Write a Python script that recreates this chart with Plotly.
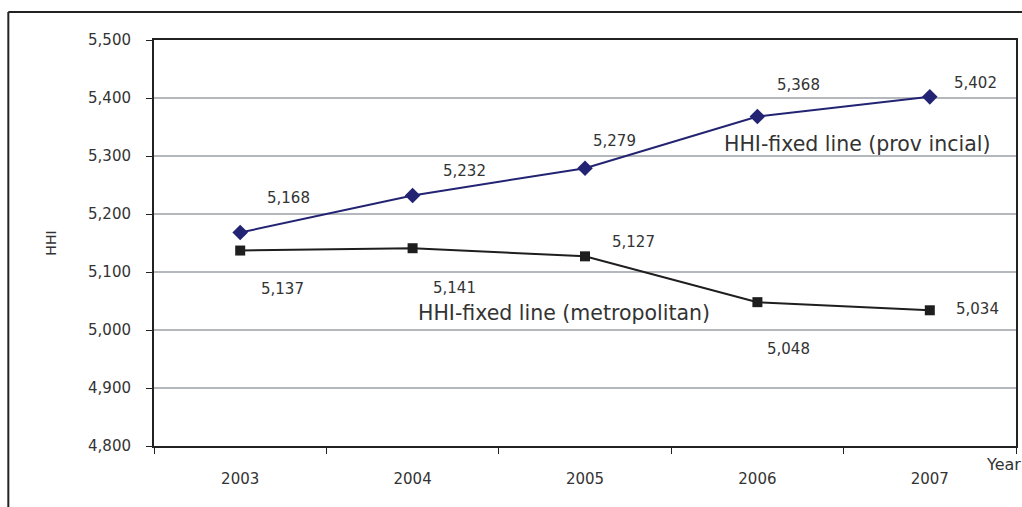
import plotly.graph_objects as go

years = ["2003", "2004", "2005", "2006", "2007"]
provincial = [5168, 5232, 5279, 5368, 5402]
metropolitan = [5137, 5141, 5127, 5048, 5034]

prov_label = "HHI-fixed line (prov incial)"
metro_label = "HHI-fixed line (metropolitan)"

FONT = "DejaVu Sans"
TXT = "#333333"

# label offsets (pixels) relative to each point
prov_shift = [(48, 35), (52, 24), (29, 27), (41, 32), (46, 14)]
metro_shift = [(42, -38), (42, -40), (48, 14), (31, -47), (48, 1)]

fig = go.Figure()
fig.add_trace(go.Scatter(
    x=years, y=provincial, mode="lines+markers", name=prov_label,
    line=dict(color="#232373", width=2),
    marker=dict(symbol="diamond", size=12, color="#232373"),
))
fig.add_trace(go.Scatter(
    x=years, y=metropolitan, mode="lines+markers", name=metro_label,
    line=dict(color="#1e1e1e", width=2),
    marker=dict(symbol="square", size=10, color="#1e1e1e"),
))

annotations = []
# value labels; category axes take the serial index of each category
for i, (v, (dx, dy)) in enumerate(zip(provincial, prov_shift)):
    annotations.append(dict(x=i, y=v, xref="x", yref="y", text=f"{v:,}",
                            showarrow=False, xshift=dx, yshift=dy,
                            font=dict(family=FONT, size=15, color=TXT)))
for i, (v, (dx, dy)) in enumerate(zip(metropolitan, metro_shift)):
    annotations.append(dict(x=i, y=v, xref="x", yref="y", text=f"{v:,}",
                            showarrow=False, xshift=dx, yshift=dy,
                            font=dict(family=FONT, size=15, color=TXT)))

# series names placed next to their lines
annotations.append(dict(x=3.58, y=5320, xref="x", yref="y", text=prov_label,
                        showarrow=False, font=dict(family=FONT, size=20.5, color=TXT)))
annotations.append(dict(x=1.878, y=5030, xref="x", yref="y", text=metro_label,
                        showarrow=False, font=dict(family=FONT, size=20.5, color=TXT)))

# axis titles
annotations.append(dict(x=-0.1315, y=0.5, xref="paper", yref="paper", text="HHI",
                        textangle=-90, showarrow=False,
                        font=dict(family=FONT, size=14, color=TXT)))
annotations.append(dict(x=0.963, y=-0.075, xref="paper", yref="paper", text="Year",
                        xanchor="left", showarrow=False,
                        font=dict(family=FONT, size=16, color=TXT)))

fig.update_layout(
    width=1022, height=507,
    margin=dict(l=154, r=4, t=40, b=61),
    paper_bgcolor="white", plot_bgcolor="white",
    showlegend=False,
    annotations=annotations,
    shapes=[
        # outer frame (top and left edges)
        dict(type="line", xref="paper", yref="paper",
             x0=-0.169, y0=1.069, x1=1.01, y1=1.069,
             line=dict(color="#222222", width=2)),
        dict(type="line", xref="paper", yref="paper",
             x0=-0.169, y0=1.069, x1=-0.169, y1=-0.2,
             line=dict(color="#222222", width=2)),
    ],
    xaxis=dict(
        type="category", range=[-0.5, 4.5],
        showline=True, linecolor="#222222", linewidth=2, mirror=True,
        ticks="outside", ticklen=6, tickcolor="#222222", tickson="boundaries",
        ticklabelstandoff=18,
        tickfont=dict(family=FONT, size=15, color=TXT),
        showgrid=False,
    ),
    yaxis=dict(
        range=[4800, 5500], dtick=100, tickformat=",",
        showline=True, linecolor="#222222", linewidth=2, mirror=True,
        ticks="outside", ticklen=6, tickcolor="#222222",
        ticklabelstandoff=12,
        tickfont=dict(family=FONT, size=15, color=TXT),
        showgrid=True, gridcolor="#b4b8bc", gridwidth=2,
        zeroline=False,
    ),
)

fig.write_html("out.html")
